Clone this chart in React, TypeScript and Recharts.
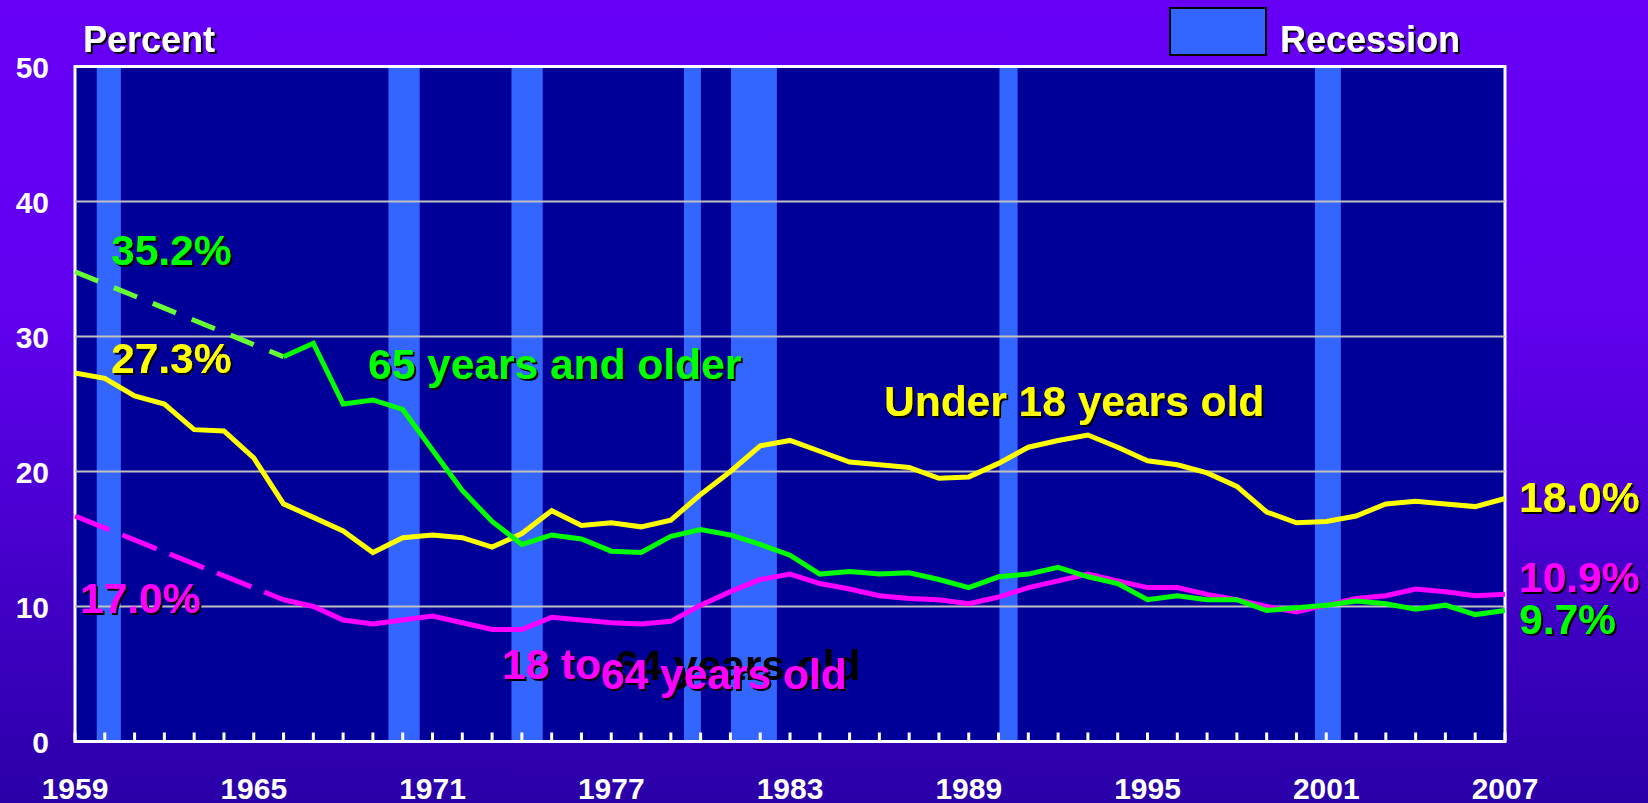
import { LineChart, Line, XAxis, YAxis, ReferenceArea, ReferenceLine } from "recharts";

// Poverty rates by age, 1959 to 2007 (percent)
const years = [
  1959, 1960, 1961, 1962, 1963, 1964, 1965, 1966, 1967, 1968,
  1969, 1970, 1971, 1972, 1973, 1974, 1975, 1976, 1977, 1978,
  1979, 1980, 1981, 1982, 1983, 1984, 1985, 1986, 1987, 1988,
  1989, 1990, 1991, 1992, 1993, 1994, 1995, 1996, 1997, 1998,
  1999, 2000, 2001, 2002, 2003, 2004, 2005, 2006, 2007,
];
const labelYears = [1959, 1965, 1971, 1977, 1983, 1989, 1995, 2001, 2007];
const percentTicks = [0, 10, 20, 30, 40, 50];
const gridValues = [10, 20, 30, 40];

const under18 = [
  27.3, 26.9, 25.6, 25.0, 23.1, 23.0, 21.0, 17.6, 16.6, 15.6,
  14.0, 15.1, 15.3, 15.1, 14.4, 15.4, 17.1, 16.0, 16.2, 15.9,
  16.4, 18.3, 20.0, 21.9, 22.3, 21.5, 20.7, 20.5, 20.3, 19.5,
  19.6, 20.6, 21.8, 22.3, 22.7, 21.8, 20.8, 20.5, 19.9, 18.9,
  17.0, 16.2, 16.3, 16.7, 17.6, 17.8, 17.6, 17.4, 18.0,
];
// 1960-1965 not available for the two adult groups
const age65plus = [
  null, null, null, null, null, null, null, 28.5, 29.5, 25.0,
  25.3, 24.6, 21.6, 18.6, 16.3, 14.6, 15.3, 15.0, 14.1, 14.0,
  15.2, 15.7, 15.3, 14.6, 13.8, 12.4, 12.6, 12.4, 12.5, 12.0,
  11.4, 12.2, 12.4, 12.9, 12.2, 11.7, 10.5, 10.8, 10.5, 10.5,
  9.7, 9.9, 10.1, 10.4, 10.2, 9.8, 10.1, 9.4, 9.7,
];
const age18to64 = [
  null, null, null, null, null, null, null, 10.5, 10.0, 9.0,
  8.7, 9.0, 9.3, 8.8, 8.3, 8.3, 9.2, 9.0, 8.8, 8.7,
  8.9, 10.1, 11.1, 12.0, 12.4, 11.7, 11.3, 10.8, 10.6, 10.5,
  10.2, 10.7, 11.4, 11.9, 12.4, 11.9, 11.4, 11.4, 10.9, 10.5,
  10.0, 9.6, 10.1, 10.6, 10.8, 11.3, 11.1, 10.8, 10.9,
];
// dashed bridge over the missing years
const gapYears = [1959, 1966];
const age65Gap = [34.8, 28.5];
const age18to64Gap = [16.7, 10.5];

// recession shading, start and end
const recessions = [
  [1959.73, 1960.54],
  [1969.52, 1970.57],
  [1973.65, 1974.7],
  [1979.44, 1980.01],
  [1981.02, 1982.56],
  [1990.03, 1990.64],
  [2000.62, 2001.49],
];

const data = years.map((year, i) => {
  const g = gapYears.indexOf(year);
  return {
    year,
    under18: under18[i],
    age65plus: age65plus[i],
    age18to64: age18to64[i],
    age65Gap: g >= 0 ? age65Gap[g] : null,
    age18to64Gap: g >= 0 ? age18to64Gap[g] : null,
  };
});

const FONT = "'Liberation Sans', Arial, sans-serif";
const YELLOW = "#FFFF00";
const GREEN = "#00FF00";
const MAGENTA = "#FF00FF";

const annotations = [
  { text: "35.2%", x: 111, y: 265, color: GREEN },
  { text: "27.3%", x: 111, y: 373, color: YELLOW },
  { text: "17.0%", x: 80, y: 613, color: MAGENTA },
  { text: "65 years and older", x: 368, y: 379, color: GREEN },
  { text: "Under 18 years old", x: 884, y: 416, color: YELLOW },
  { text: "18.0%", x: 1519, y: 512, color: YELLOW },
  { text: "10.9%", x: 1519, y: 592, color: MAGENTA },
  { text: "9.7%", x: 1519, y: 634, color: GREEN },
];

function YearTick(props: any) {
  const { x, y, payload } = props;
  const show = labelYears.includes(payload.value);
  return (
    <g>
      <line x1={x} x2={x} y1={y} y2={y - 9} stroke="#fff" strokeWidth={3} />
      {show && (
        <text
          x={x}
          y={y + 57}
          textAnchor="middle"
          fill="#fff"
          fontSize={30}
          fontWeight="bold"
          fontFamily={FONT}
        >
          {payload.value}
        </text>
      )}
    </g>
  );
}

function PercentTick(props: any) {
  const { x, y, payload } = props;
  return (
    <text
      x={x}
      y={y + 11}
      textAnchor="end"
      fill="#fff"
      fontSize={30}
      fontWeight="bold"
      fontFamily={FONT}
    >
      {payload.value}
    </text>
  );
}

export default function App() {
  return (
    <div
      style={{
        position: "absolute",
        left: 0,
        top: 0,
        width: 1648,
        height: 803,
        overflow: "hidden",
        background: "linear-gradient(180deg, #6600F6 0%, #6200F0 38%, #2A00A8 100%)",
      }}
    >
      <LineChart
        width={1648}
        height={803}
        data={data}
        margin={{ top: 66.5, right: 143, bottom: 0, left: 0 }}
      >
        <XAxis
          dataKey="year"
          type="number"
          domain={[1959, 2007]}
          ticks={years}
          interval={0}
          height={61.5}
          axisLine={false}
          tickLine={false}
          tickSize={0}
          tickMargin={0}
          tick={<YearTick />}
        />
        <YAxis
          type="number"
          domain={[0, 50]}
          ticks={percentTicks}
          width={75}
          axisLine={false}
          tickLine={false}
          tickSize={0}
          tickMargin={26}
          tick={<PercentTick />}
        />
        <ReferenceArea x1={1959} x2={2007} y1={0} y2={50} fill="#000099" fillOpacity={1} stroke="none" />
        {recessions.map(([a, b]) => (
          <ReferenceArea key={a} x1={a} x2={b} y1={0} y2={50} fill="#3366FF" fillOpacity={1} stroke="none" />
        ))}
        {gridValues.map((v) => (
          <ReferenceLine key={v} y={v} stroke="#C0C0C0" strokeWidth={2} />
        ))}
        <Line
          dataKey="age65Gap"
          stroke="#66FF33"
          strokeWidth={5}
          strokeDasharray="25 17"
          dot={false}
          connectNulls
          isAnimationActive={false}
        />
        <Line
          dataKey="age18to64Gap"
          stroke={MAGENTA}
          strokeWidth={5}
          strokeDasharray="37 14"
          dot={false}
          connectNulls
          isAnimationActive={false}
        />
        <Line dataKey="age18to64" stroke={MAGENTA} strokeWidth={5} dot={false} isAnimationActive={false} />
        <Line dataKey="under18" stroke={YELLOW} strokeWidth={5} dot={false} isAnimationActive={false} />
        <Line dataKey="age65plus" stroke={GREEN} strokeWidth={5} dot={false} isAnimationActive={false} />
        <ReferenceArea x1={1959} x2={2007} y1={0} y2={50} fill="none" stroke="#fff" strokeWidth={3} />
      </LineChart>

      <svg
        width={1648}
        height={803}
        style={{ position: "absolute", left: 0, top: 0, pointerEvents: "none" }}
        fontFamily={FONT}
        fontWeight="bold"
      >
        <defs>
          <filter id="shadow" x="-10%" y="-20%" width="130%" height="150%">
            <feDropShadow dx={2} dy={2} stdDeviation={0.4} floodColor="#000" floodOpacity={1} />
          </filter>
        </defs>
        <text x={83} y={52} fill="#fff" fontSize={36} filter="url(#shadow)">
          Percent
        </text>
        <rect x={1170} y={8} width={96} height={47} fill="#3366FF" stroke="#000" strokeWidth={2} />
        <text x={1280} y={52} fill="#fff" fontSize={36} filter="url(#shadow)">
          Recession
        </text>
        {annotations.map((a) => (
          <text key={a.text} x={a.x} y={a.y} fill={a.color} fontSize={42.5} filter="url(#shadow)">
            {a.text}
          </text>
        ))}
        <text x={502} y={679} fill={MAGENTA} fontSize={42.5} filter="url(#shadow)">
          18 to
        </text>
        <text x={615} y={680} fill="#000" fontSize={42.5}>
          64 years old
        </text>
        <text x={601} y={689} fill={MAGENTA} fontSize={42.5} filter="url(#shadow)">
          64 years old
        </text>
      </svg>
    </div>
  );
}
